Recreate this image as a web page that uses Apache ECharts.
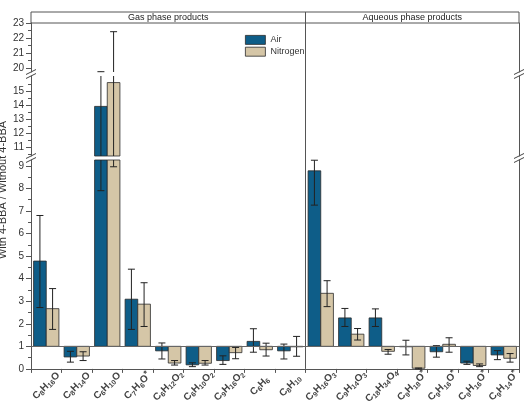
<!DOCTYPE html>
<html>
<head>
<meta charset="utf-8">
<script src="https://cdn.jsdelivr.net/npm/echarts@6/dist/echarts.min.js"></script>
<style>
html,body{margin:0;padding:0;background:#fff;}
#chart{width:528px;height:407px;}
</style>
</head>
<body>
<div id="chart"></div>
<script>
// ---- data ----
const gasCategories = ['C8H16O','C8H14O','C6H10O','C7H6O*','C6H12O2','C6H10O2','C9H16O2','C6H6','C8H10'];
const aqCategories = ['C9H16O3','C9H14O3','C18H34O4','C9H18O*','C9H16O*','C9H16O*','C9H14O*'];
const categories = gasCategories.concat(aqCategories);

const airValues = [4.78, 0.53, 13.9, 3.09, 0.8, 0.18, 0.37, 1.22, 0.8, 8.78, 2.26, 2.26, 0.98, 0.76, 0.26, 0.62];
const airLow    = [2.72, 0.3, 7.9, 1.75, 0.44, 0.1, 0.2, 0.74, 0.44, 7.26, 1.88, 1.88, 0.62, 0.52, 0.2, 0.41];
const airHigh   = [6.8, 0.78, 19.75, 4.42, 1.15, 0.27, 0.58, 1.78, 1.1, 9.25, 2.68, 2.66, 1.27, 1.03, 0.34, 0.81];
const n2Values  = [2.67, 0.57, 15.6, 2.87, 0.26, 0.25, 0.72, 0.85, 0.98, 3.35, 1.54, 0.78, 0.03, 1.09, 0.15, 0.47];
const n2Low     = [1.75, 0.37, 8.96, 1.88, 0.17, 0.17, 0.45, 0.57, 0.56, 2.76, 1.28, 0.65, 0.0, 0.74, 0.1, 0.3];
const n2High    = [3.56, 0.76, 22.42, 3.82, 0.37, 0.37, 0.95, 1.14, 1.44, 3.91, 1.79, 0.86, 0.04, 1.38, 0.22, 0.68];

const baseline = 1;
// axis segments (broken y axis), bottom -> top
const segments = [
  {min: 0, max: 9.26, labels: [0,1,2,3,4,5,6,7,8,9]},
  {min: 10.36, max: 16.07, labels: [11,12,13,14,15]},
  {min: 19.73, max: 23, labels: [20,21,22,23]}
];
const segmentBoxes = [ {top: 160, height: 210}, {top: 76, height: 80}, {top: 23, height: 49} ];

const AIR = '#0e5d88', N2 = '#d5c6a7', EDGE = '#2b2b2b', AX = '#555';
const FONT = 'Liberation Sans, Arial, sans-serif';

function halves(seg){
  const out=[];
  for(let v=Math.ceil(seg.min*2)/2; v<=seg.max+1e-9; v+=0.5){ if(Math.abs(v-Math.round(v))>1e-6) out.push(v); }
  return out;
}
function fmtLabel(s){
  return s.replace(/(\d+)/g,'{s|$1}').replace(/\*/g,'{p|*}');
}

const grids=[], xAxes=[], yAxes=[], series=[];
segments.forEach((seg,g)=>{
  const box=segmentBoxes[g];
  grids.push({left:31, right:9, top:box.top, height:box.height, containLabel:false});
  const isBottom = g===0;
  xAxes.push({
    type:'category', gridIndex:g, data:categories, boundaryGap:true,
    show:isBottom,
    axisLine:{show:isBottom, onZero:false, lineStyle:{color:AX,width:1}},
    axisTick:{show:isBottom, length:4, lineStyle:{color:AX}},
    axisLabel:{show:isBottom, rotate:45, interval:0, margin:17, align:'center', verticalAlign:'middle',
      fontFamily:FONT, fontSize:10, color:'#444', fontWeight:'bold',
      formatter:(v)=>fmtLabel(v),
      rich:{s:{fontSize:7, fontFamily:FONT, color:'#444', verticalAlign:'bottom', padding:[5,0,0,0]},
            p:{fontSize:9, fontFamily:FONT, color:'#444', verticalAlign:'top', padding:[0,0,5,0]}}}
  });
  // main left axis
  yAxes.push({type:'value', gridIndex:g, position:'left', min:seg.min, max:seg.max,
    axisLine:{show:true, lineStyle:{color:AX}},
    axisTick:{show:true, length:5, customValues:seg.labels, lineStyle:{color:AX}},
    axisLabel:{show:true, customValues:seg.labels, fontFamily:FONT, fontSize:10, color:'#333', margin:7},
    splitLine:{show:false}});
  // minor ticks
  yAxes.push({type:'value', gridIndex:g, position:'left', min:seg.min, max:seg.max,
    axisLine:{show:false}, axisLabel:{show:false}, splitLine:{show:false},
    axisTick:{show:true, length:3, customValues:halves(seg), lineStyle:{color:AX}}});
  // right frame
  yAxes.push({type:'value', gridIndex:g, position:'right', min:seg.min, max:seg.max,
    axisLine:{show:true, lineStyle:{color:AX}}, axisLabel:{show:false}, axisTick:{show:false}, splitLine:{show:false}});

  const yIdx=3*g;
  [[ 'Air', airValues, AIR, -1 ], ['Nitrogen', n2Values, N2, 0]].forEach(([name, vals, color, side])=>{
    series.push({
      type:'custom', name:name, xAxisIndex:g, yAxisIndex:yIdx, z:2,
      color:color, itemStyle:{color:color, borderColor:EDGE, borderWidth:1},
      encode:{x:0, y:1},
      data: vals.map((v,i)=>[i,v]),
      renderItem:(params, api)=>{
        const i=api.value(0), v=api.value(1);
        const bw=api.size([1,0])[0];
        const w=bw*0.415;
        const c=api.coord([i, baseline]);
        const e=api.coord([i, v]);
        const x=c[0]+side*w;
        const y0=Math.min(c[1],e[1]), y1=Math.max(c[1],e[1]);
        const cs=params.coordSys;
        const r=echarts.graphic.clipRectByRect({x:x, y:y0, width:w, height:y1-y0},
          {x:cs.x, y:cs.y, width:cs.width, height:cs.height});
        if(!r) return null;
        return {type:'rect', shape:r, style:{fill:color, stroke:EDGE, lineWidth:0.8}};
      }
    });
  });
  [[airLow, airHigh, -0.5],[n2Low, n2High, 0.5]].forEach(([lo, hi, side], k)=>{
    series.push({
      type:'custom', name:'err'+k+'_'+g, xAxisIndex:g, yAxisIndex:yIdx, z:3,
      encode:{x:0, y:[1,2]},
      data: lo.map((l,i)=>[i,l,hi[i]]),
      renderItem:(params, api)=>{
        const i=api.value(0), l=api.value(1), h=api.value(2);
        const bw=api.size([1,0])[0];
        const w=bw*0.415;
        const cs=params.coordSys;
        const top=cs.y, bot=cs.y+cs.height;
        const pL=api.coord([i,l]), pH=api.coord([i,h]);
        const x=pL[0]+side*w;
        let yl=pL[1], yh=pH[1];
        if(yh>bot || yl<top) return null;
        const children=[];
        const ya=Math.max(yh,top), yb=Math.min(yl,bot);
        children.push({type:'line', shape:{x1:x,y1:ya,x2:x,y2:yb}, style:{stroke:'#222', lineWidth:1}});
        const cw=3.5;
        if(yh>=top-0.5) children.push({type:'line', shape:{x1:x-cw,y1:yh,x2:x+cw,y2:yh}, style:{stroke:'#222', lineWidth:1}});
        if(yl<=bot+0.5) children.push({type:'line', shape:{x1:x-cw,y1:yl,x2:x+cw,y2:yl}, style:{stroke:'#222', lineWidth:1}});
        return {type:'group', children:children};
      }
    });
  });
});
// baseline at 1
series.push({type:'line', xAxisIndex:0, yAxisIndex:0, data:[], silent:true,
  markLine:{symbol:'none', silent:true, label:{show:false}, lineStyle:{color:'#666', width:1, type:'solid'},
    data:[{yAxis:baseline}]}});

const chart=echarts.init(document.getElementById('chart'), null, {renderer:'canvas'});
chart.setOption({
  animation:false,
  backgroundColor:'#fff',
  grid:grids, xAxis:xAxes, yAxis:yAxes, series:series,
  legend:{data:[{name:'Air', itemStyle:{color:AIR, borderColor:EDGE, borderWidth:0.8}},
                {name:'Nitrogen', itemStyle:{color:N2, borderColor:EDGE, borderWidth:0.8}}],
    orient:'vertical', left:240, top:30, itemWidth:20, itemHeight:9, itemGap:2, icon:'rect',
    textStyle:{fontFamily:FONT, fontSize:9, color:'#333'}}
});

// structural decorations computed from the axes
const L=31, R=519;
const xDiv = (chart.convertToPixel({xAxisIndex:0}, gasCategories.length-1) + chart.convertToPixel({xAxisIndex:0}, gasCategories.length))/2;
const yBottom = chart.convertToPixel({yAxisIndex:0}, 0);
const gaps = [
  [chart.convertToPixel({yAxisIndex:3}, segments[1].min), chart.convertToPixel({yAxisIndex:0}, segments[0].max)],
  [chart.convertToPixel({yAxisIndex:6}, segments[2].min), chart.convertToPixel({yAxisIndex:3}, segments[1].max)]
];
const g=[];
g.push({type:'rect', shape:{x:L, y:12, width:R-L, height:11}, style:{fill:'none', stroke:AX, lineWidth:1}});
g.push({type:'line', shape:{x1:xDiv, y1:12, x2:xDiv, y2:yBottom}, style:{stroke:AX, lineWidth:1}});
g.push({type:'text', x:(L+xDiv)/2, y:18, style:{text:'Gas phase products', fontFamily:FONT, fontSize:9, fill:'#222', align:'center', verticalAlign:'middle'}});
g.push({type:'text', x:(xDiv+R)/2, y:18, style:{text:'Aqueous phase products', fontFamily:FONT, fontSize:9, fill:'#222', align:'center', verticalAlign:'middle'}});
g.push({type:'text', x:3, y:190, rotation:Math.PI/2, style:{text:'With 4-BBA / Without 4-BBA', fontFamily:FONT, fontSize:11, fill:'#333', align:'center', verticalAlign:'middle'}});
gaps.forEach(([yTop, yBot])=>{
  [L,R].forEach(x=>{
    [yTop, yBot].forEach(yy=>{
      g.push({type:'line', shape:{x1:x-5, y1:yy+2.5, x2:x+5, y2:yy-2.5}, style:{stroke:'#444', lineWidth:1}});
    });
  });
});
chart.setOption({graphic:{elements:g}});
</script>
</body>
</html>
